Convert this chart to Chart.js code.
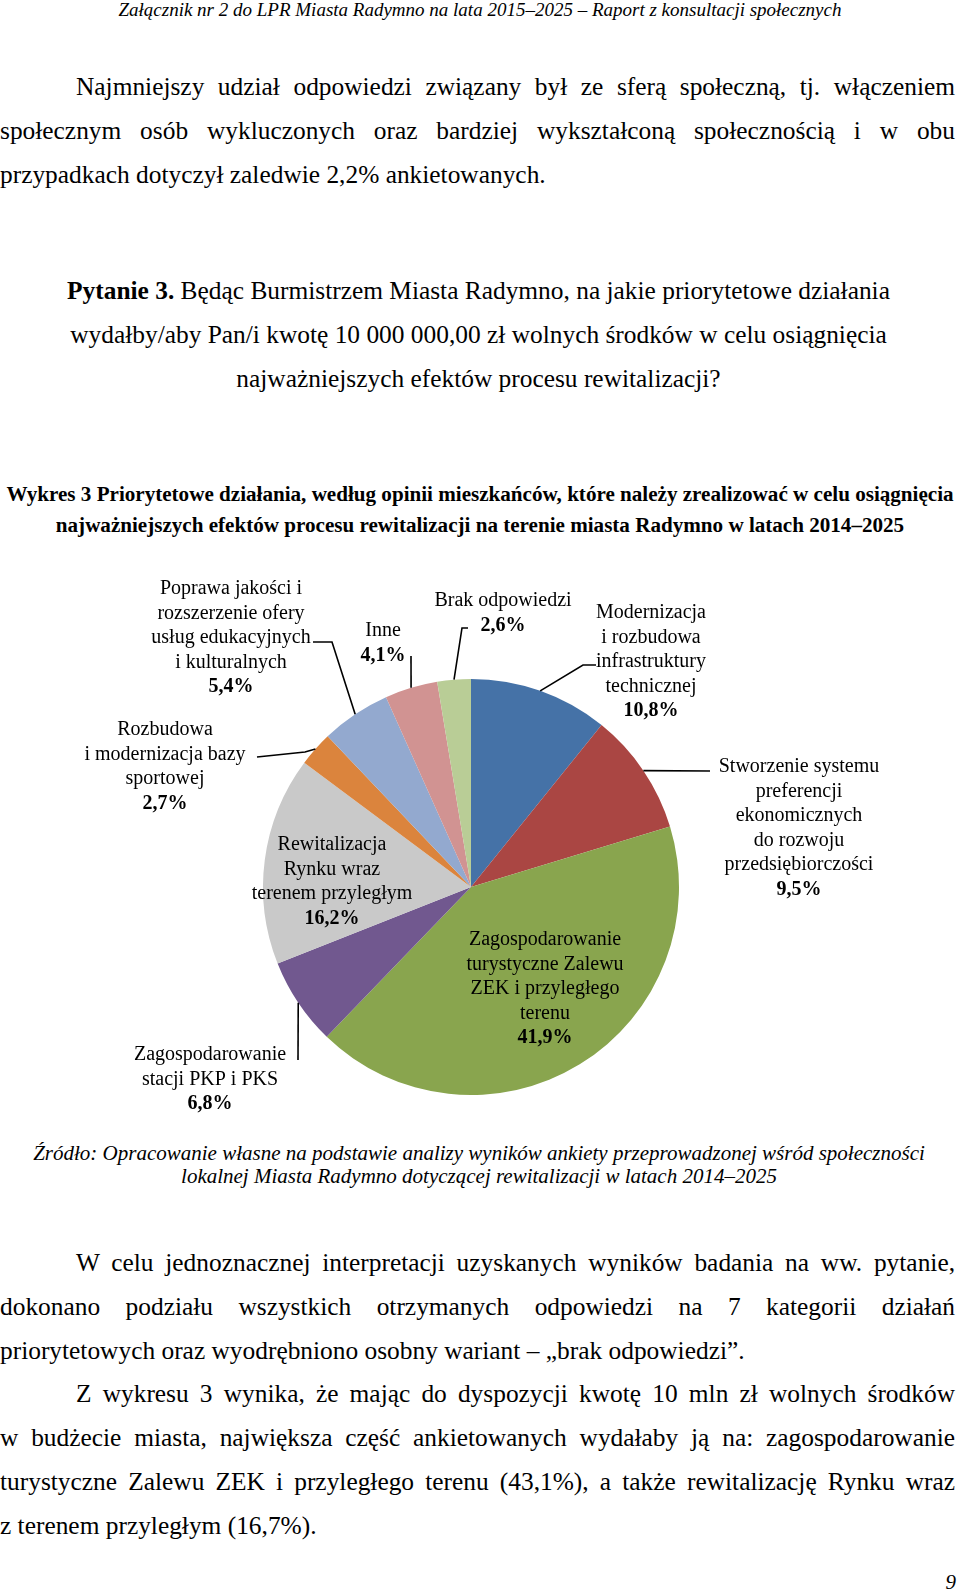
<!DOCTYPE html>
<html lang="pl">
<head>
<meta charset="utf-8">
<title>Wykres 3</title>
<script src="https://cdn.jsdelivr.net/npm/chart.js"></script>
<style>
  html, body { margin: 0; padding: 0; background: #fff; }
  body { width: 960px; height: 1592px; position: relative; overflow: hidden;
         font-family: "Liberation Serif", "Times New Roman", serif; color: #000; }
  .abs { position: absolute; }
  .hdr { left: 0; width: 960px; top: -2px; font-size: 19px; line-height: 24px; font-style: italic; text-align: center; }
  .p { left: 0; width: 955px; font-size: 25.4px; line-height: 43.8px; }
  .j { text-align: justify; text-align-last: justify; white-space: nowrap; }
  .ind { padding-left: 76px; }
  .c { text-align: center; white-space: nowrap; }
  .cap { left: 0; width: 960px; font-size: 21.1px; line-height: 31px; font-weight: bold; text-align: center; white-space: nowrap; }
  .src { left: 0; width: 958px; font-size: 21px; line-height: 23px; font-style: italic; text-align: center; white-space: nowrap; }
  .pg { right: 4px; top: 1570px; font-size: 21px; font-style: italic; }
  #chart { position: absolute; left: 0; top: 560px; }
</style>
</head>
<body>
<div class="abs hdr">Załącznik nr 2 do LPR Miasta Radymno na lata 2015–2025 – Raport z konsultacji społecznych</div>

<div class="abs p" style="top:65px">
  <div class="j ind">Najmniejszy udział odpowiedzi związany był ze sferą społeczną, tj. włączeniem</div>
  <div class="j">społecznym osób wykluczonych oraz bardziej wykształconą społecznością i w obu</div>
  <div>przypadkach dotyczył zaledwie 2,2% ankietowanych.</div>
</div>

<div class="abs p c" style="top:269px; width:957px">
  <div><b>Pytanie 3.</b> Będąc Burmistrzem Miasta Radymno, na jakie priorytetowe działania</div>
  <div>wydałby/aby Pan/i kwotę 10 000 000,00 zł wolnych środków w celu osiągnięcia</div>
  <div>najważniejszych efektów procesu rewitalizacji?</div>
</div>

<div class="abs cap" style="top:479px">
  <div>Wykres 3 Priorytetowe działania, według opinii mieszkańców, które należy zrealizować w celu osiągnięcia</div>
  <div>najważniejszych efektów procesu rewitalizacji na terenie miasta Radymno w latach 2014–2025</div>
</div>

<canvas id="chart" width="960" height="560"></canvas>

<div class="abs src" style="top:1142px">
  <div>Źródło: Opracowanie własne na podstawie analizy wyników ankiety przeprowadzonej wśród społeczności</div>
  <div>lokalnej Miasta Radymno dotyczącej rewitalizacji w latach 2014–2025</div>
</div>

<div class="abs p" style="top:1241px">
  <div class="j ind">W celu jednoznacznej interpretacji uzyskanych wyników badania na ww. pytanie,</div>
  <div class="j">dokonano podziału wszystkich otrzymanych odpowiedzi na 7 kategorii działań</div>
  <div>priorytetowych oraz wyodrębniono osobny wariant – „brak odpowiedzi”.</div>
  <div class="j ind">Z wykresu 3 wynika, że mając do dyspozycji kwotę 10 mln zł wolnych środków</div>
  <div class="j">w budżecie miasta, największa część ankietowanych wydałaby ją na: zagospodarowanie</div>
  <div class="j">turystyczne Zalewu ZEK i przyległego terenu (43,1%), a także rewitalizację Rynku wraz</div>
  <div>z terenem przyległym (16,7%).</div>
</div>

<div class="abs pg">9</div>

<script>
// dane wykresu (kolejnosc zgodnie z ruchem wskazowek zegara od godziny 12)
const categories = [
  'Modernizacja i rozbudowa infrastruktury technicznej',
  'Stworzenie systemu preferencji ekonomicznych do rozwoju przedsiębiorczości',
  'Zagospodarowanie turystyczne Zalewu ZEK i przyległego terenu',
  'Zagospodarowanie stacji PKP i PKS',
  'Rewitalizacja Rynku wraz terenem przyległym',
  'Rozbudowa i modernizacja bazy sportowej',
  'Poprawa jakości i rozszerzenie ofery usług edukacyjnych i kulturalnych',
  'Inne',
  'Brak odpowiedzi'
];
const shares = [10.8, 9.5, 41.9, 6.8, 16.2, 2.7, 5.4, 4.1, 2.6];
const colors = ['#4572A7', '#AA4643', '#89A54E', '#71588F', '#C9C9C9', '#DB843D', '#93A9CF', '#D19392', '#B9CD96'];

// podzial etykiet na linie
const labelLines = [
  ['Modernizacja', 'i rozbudowa', 'infrastruktury', 'technicznej'],
  ['Stworzenie systemu', 'preferencji', 'ekonomicznych', 'do rozwoju', 'przedsiębiorczości'],
  ['Zagospodarowanie', 'turystyczne Zalewu', 'ZEK i przyległego', 'terenu'],
  ['Zagospodarowanie', 'stacji PKP i PKS'],
  ['Rewitalizacja', 'Rynku wraz', 'terenem przyległym'],
  ['Rozbudowa', 'i modernizacja bazy', 'sportowej'],
  ['Poprawa jakości i', 'rozszerzenie ofery', 'usług edukacyjnych', 'i kulturalnych'],
  ['Inne'],
  ['Brak odpowiedzi']
];

// polozenie etykiet i zalamania linii odniesienia (px na canvasie)
const labelPos = [
  {x: 651, y: 53, leader: [[583, 105], [596, 105]]},
  {x: 799, y: 207, leader: [[710, 211]]},
  {x: 545, y: 380},
  {x: 210, y: 495, leader: [[298, 500]]},
  {x: 332, y: 285},
  {x: 165, y: 170, leader: [[305, 192], [257, 197]]},
  {x: 231, y: 29, leader: [[332, 82], [313, 82]]},
  {x: 383, y: 71, leader: [[411, 96]]},
  {x: 503, y: 41, leader: [[462, 68], [468, 68]]}
];

const fmtPct = v => v.toFixed(1).replace('.', ',') + '%';

const labelPlugin = {
  id: 'pieLabels',
  afterDraw(chart) {
    const ctx = chart.ctx;
    const meta = chart.getDatasetMeta(0);
    ctx.save();
    meta.data.forEach((arc, i) => {
      const p = arc.getProps(['x', 'y', 'startAngle', 'endAngle', 'outerRadius']);
      const mid = (p.startAngle + p.endAngle) / 2;
      const ax = p.x + Math.cos(mid) * p.outerRadius;
      const ay = p.y + Math.sin(mid) * p.outerRadius;
      const pos = labelPos[i];
      if (pos.leader) {
        ctx.strokeStyle = '#000';
        ctx.lineWidth = 1.6;
        ctx.beginPath();
        ctx.moveTo(ax, ay);
        pos.leader.forEach(pt => ctx.lineTo(pt[0], pt[1]));
        ctx.stroke();
      }
      const lines = labelLines[i].concat([fmtPct(shares[i])]);
      ctx.fillStyle = '#000';
      ctx.textAlign = 'center';
      ctx.textBaseline = 'middle';
      lines.forEach((t, k) => {
        const last = k === lines.length - 1;
        ctx.font = (last ? 'bold ' : '') + '20px "Liberation Serif", "Times New Roman", serif';
        ctx.fillText(t, pos.x, pos.y + k * 24.5);
      });
    });
    ctx.restore();
  }
};

new Chart(document.getElementById('chart').getContext('2d'), {
  type: 'pie',
  data: {
    labels: categories,
    datasets: [{
      data: shares,
      backgroundColor: colors,
      borderWidth: 0
    }]
  },
  options: {
    responsive: false,
    animation: false,
    devicePixelRatio: 1,
    layout: { padding: { left: 263, right: 281, top: 119, bottom: 25 } },
    plugins: {
      legend: { display: false },
      tooltip: { enabled: false },
      title: { display: false }
    }
  },
  plugins: [labelPlugin]
});
</script>
</body>
</html>
